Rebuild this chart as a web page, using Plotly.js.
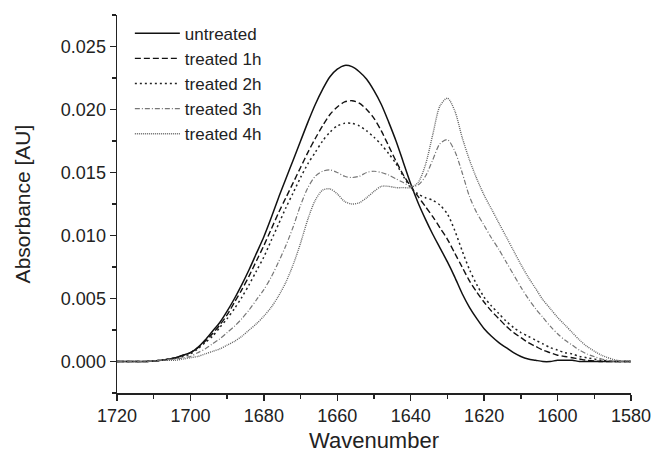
<!DOCTYPE html>
<html>
<head>
<meta charset="utf-8">
<script src="https://cdn.plot.ly/plotly-3.0.1.min.js"></script>
<style>html,body{margin:0;padding:0;background:#fff;}#chart{width:654px;height:455px;}</style>
</head>
<body>
<div id="chart"></div>
<script>
// Wavenumber grid (cm^-1)
const wavenumber = [1720,1716,1712,1708,1704,
  1702,1700,1698,1696,1694,1692,1690,1688,1686,1684,1682,1680,1678,1676,1674,1672,1670,1668,1666,1664,
  1662,1660,1658,1656,1654,1652,1650,1648,1646,1644,1642,1640,1638,1636,1634,1632,1630,1628,1626,1624,
  1622,1620,1618,1616,1614,1612,1610,1608,1606,1604,1602,1600,1598,1596,1594,1592,
  1588,1584,1580];

const untreated = [0,0,0,0.0001,0.0003,
  0.0005,0.0007,0.0011,0.0017,0.0024,0.0031,0.0040,0.0050,0.0061,0.0073,0.0086,0.0099,0.0114,0.0130,0.0145,0.0160,0.0175,0.0190,0.0204,0.0216,
  0.0226,0.0232,0.0235,0.0234,0.0230,0.0224,0.0215,0.0204,0.0190,0.0175,0.0158,0.0141,0.0126,0.0113,0.0101,0.0090,0.0079,0.0067,0.0054,0.0043,
  0.0034,0.0026,0.0020,0.0015,0.0011,0.0007,0.0004,0.0002,0.0001,0.0000,0.0000,0.0001,0.0001,0.0001,0.0000,0.0000,
  0,0,0];

const treated1h = [0,0,0,0.0001,0.0003,
  0.0005,0.0007,0.0011,0.0016,0.0022,0.0029,0.0037,0.0047,0.0057,0.0068,0.0080,0.0092,0.0105,0.0118,0.0130,0.0142,0.0154,0.0166,0.0177,0.0187,
  0.0196,0.0202,0.0206,0.0207,0.0205,0.0200,0.0193,0.0183,0.0171,0.0159,0.0148,0.0139,0.0131,0.0123,0.0115,0.0106,0.0097,0.0086,0.0075,0.0064,
  0.0055,0.0047,0.0040,0.0034,0.0028,0.0023,0.0019,0.0015,0.0012,0.0009,0.0007,0.0005,0.0004,0.0003,0.0002,0.0001,
  0,0,0];

const treated2h = [0,0,0,0.0001,0.0003,
  0.0004,0.0006,0.0010,0.0015,0.0020,0.0027,0.0034,0.0042,0.0051,0.0061,0.0072,0.0083,0.0096,0.0109,0.0122,0.0134,0.0146,0.0157,0.0166,0.0175,
  0.0182,0.0187,0.0189,0.0189,0.0187,0.0183,0.0178,0.0172,0.0165,0.0157,0.0147,0.0138,0.0133,0.0130,0.0128,0.0124,0.0117,0.0104,0.0088,0.0073,
  0.0061,0.0051,0.0044,0.0038,0.0032,0.0027,0.0023,0.0020,0.0017,0.0014,0.0011,0.0009,0.0007,0.0006,0.0004,0.0003,
  0.0001,0,0];

const treated3h = [0,0,0,0.0001,0.0002,
  0.0003,0.0004,0.0007,0.0010,0.0014,0.0018,0.0023,0.0028,0.0034,0.0041,0.0049,0.0057,0.0067,0.0079,0.0092,0.0107,0.0124,0.0138,0.0147,0.0151,
  0.0152,0.0150,0.0147,0.0146,0.0147,0.0150,0.0151,0.0150,0.0148,0.0145,0.0142,0.0139,0.0140,0.0147,0.0160,0.0173,0.0176,0.0167,0.0150,0.0131,
  0.0118,0.0108,0.0098,0.0089,0.0079,0.0069,0.0059,0.0050,0.0042,0.0035,0.0028,0.0022,0.0017,0.0013,0.0009,0.0006,
  0.0002,0,0];

const treated4h = [0,0,0,0.0001,0.0001,
  0.0002,0.0003,0.0004,0.0006,0.0008,0.0010,0.0013,0.0016,0.0020,0.0025,0.0030,0.0036,0.0043,0.0052,0.0063,0.0077,0.0094,0.0113,0.0128,0.0136,
  0.0137,0.0133,0.0127,0.0125,0.0126,0.0130,0.0135,0.0139,0.0139,0.0138,0.0138,0.0138,0.0142,0.0156,0.0180,0.0203,0.0209,0.0199,0.0178,0.0160,
  0.0145,0.0132,0.0121,0.0110,0.0099,0.0088,0.0077,0.0067,0.0058,0.0049,0.0042,0.0035,0.0029,0.0023,0.0017,0.0012,
  0.0005,0.0001,0];

const seriesNames = ['untreated','treated 1h','treated 2h','treated 3h','treated 4h'];
const seriesData = [untreated, treated1h, treated2h, treated3h, treated4h];
const seriesColors = ['#111111','#111111','#222222','#777777','#666666'];
const seriesDash = ['solid','6px,3px','2px,3px','5px,2px,1px,2px','1px,1px'];
const seriesWidth = [1.5,1.4,1.5,1.2,1.4];

const traces = seriesNames.map((n,i)=>({
  x: wavenumber, y: seriesData[i], type:'scatter', mode:'lines', name:n,
  legendgroup:'g'+i,
  line:{color:seriesColors[i], width:seriesWidth[i], dash:seriesDash[i], shape:'spline', smoothing:0.8}
}));

const font = 'Arial, "Liberation Sans", sans-serif';
const layout = {
  width:654, height:455,
  margin:{l:117, r:23, t:15, b:62},
  paper_bgcolor:'#fff', plot_bgcolor:'#fff',
  font:{family:font, color:'#222', size:18},
  showlegend:true,
  legend:{x:0.025, y:0.998, xanchor:'left', yanchor:'top', bgcolor:'rgba(0,0,0,0)',
    font:{family:font, size:17, color:'#222'}, tracegroupgap:0, itemwidth:45},
  xaxis:{range:[1720,1580], dtick:20, tick0:1580, showgrid:false, zeroline:false,
    showline:true, linecolor:'#222', linewidth:1.5, ticks:'outside', ticklen:6, tickwidth:1.5, tickcolor:'#222',
    minor:{dtick:10, ticks:'outside', ticklen:4, tickwidth:1.5, tickcolor:'#222'},
    tickfont:{size:18, family:font, color:'#222'},
    title:{text:'Wavenumber', font:{size:22, family:font, color:'#222'}, standoff:7}},
  yaxis:{range:[-0.0025,0.0275], dtick:0.005, tick0:0, tickformat:'.3f', showgrid:false, zeroline:false,
    showline:true, linecolor:'#222', linewidth:1.5, ticks:'outside', ticklen:6, tickwidth:1.5, tickcolor:'#222',
    minor:{dtick:0.0025, ticks:'outside', ticklen:4, tickwidth:1.5, tickcolor:'#222'},
    tickfont:{size:18, family:font, color:'#222'},
    title:{text:'Absorbance [AU]', font:{size:21, family:font, color:'#222'}, standoff:24}}
};

Plotly.newPlot('chart', traces, layout, {displayModeBar:false, staticPlot:true});
</script>
</body>
</html>
